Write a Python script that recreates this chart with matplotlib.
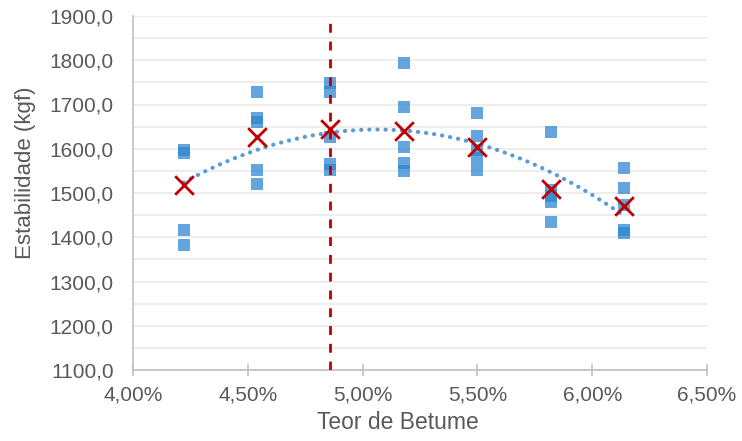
import numpy as np
import matplotlib
matplotlib.use("Agg")
import matplotlib.pyplot as plt
from matplotlib.ticker import FuncFormatter, MultipleLocator

plt.rcParams['font.family'] = ['Liberation Sans', 'DejaVu Sans']

# Data
teor = [4.22, 4.54, 4.86, 5.18, 5.50, 5.82, 6.14]
amostras = [
    [1597, 1590, 1416, 1382],
    [1728, 1670, 1660, 1552, 1520],
    [1749, 1728, 1627, 1565, 1552],
    [1794, 1694, 1604, 1568, 1550],
    [1681, 1629, 1597, 1579, 1552],
    [1638, 1507, 1493, 1480, 1434],
    [1556, 1511, 1473, 1416, 1410],
]
medias = [1518, 1627, 1645, 1640, 1604, 1509, 1471]
teor_otimo = 4.86

xs = np.concatenate([[t] * len(a) for t, a in zip(teor, amostras)])
ys = np.concatenate(amostras)

fig = plt.figure(figsize=(7.42, 4.41), dpi=100)
ax = fig.add_axes([133 / 742, 1 - 370 / 441, (707 - 133) / 742, (370 - 16) / 441])

gray = '#595959'
ax.set_xlim(4.0, 6.5)
ax.set_ylim(1100, 1900)
ax.yaxis.set_major_locator(MultipleLocator(100))
ax.yaxis.set_minor_locator(MultipleLocator(50))
ax.xaxis.set_major_locator(MultipleLocator(0.5))
ax.grid(True, which='both', axis='y', color='#E8E8E8', linewidth=1.1)
ax.set_axisbelow(True)
for s in ['top', 'right']:
    ax.spines[s].set_visible(False)
for s in ['left', 'bottom']:
    ax.spines[s].set_color('#C0C0C0')
    ax.spines[s].set_linewidth(1.2)
ax.tick_params(axis='y', which='both', length=0, pad=14, labelcolor=gray, labelsize=15)
ax.tick_params(axis='x', which='major', direction='inout', length=8, width=1.2,
               color='#C0C0C0', pad=7, labelcolor=gray, labelsize=15)
ax.yaxis.set_major_formatter(FuncFormatter(lambda v, p: f"{v:.1f}".replace('.', ',')))
ax.xaxis.set_major_formatter(FuncFormatter(lambda v, p: f"{v:.2f}%".replace('.', ',')))

ax.scatter(xs, ys, marker='s', s=64, color='#2F87D1', alpha=0.75, linewidths=0, zorder=3)

coef = np.polyfit(xs, ys, 2)
xt = np.linspace(teor[0], teor[-1], 200)
ax.plot(xt, np.polyval(coef, xt), linestyle=(0, (0.05, 1.9)), color='#5B9BD5', linewidth=3,
        dash_capstyle='round', zorder=4)

ax.scatter(teor, medias, marker='x', s=180, color='#C00000', linewidths=2, zorder=5)

ax.axvline(teor_otimo, color='#C00000', linestyle=(0, (3.2, 3.2)), linewidth=2, zorder=6)

ax.set_xlabel('Teor de Betume', fontsize=16.5, color=gray)
ax.set_ylabel('Estabilidade (kgf)', fontsize=16, color=gray)
ax.xaxis.set_label_coords((398 - 133) / (707 - 133), -(411 - 370) / (370 - 16))
ax.yaxis.set_label_coords(-(133 - 36) / (707 - 133), (370 - 173) / (370 - 16))

fig.savefig('out.png', dpi=100)
